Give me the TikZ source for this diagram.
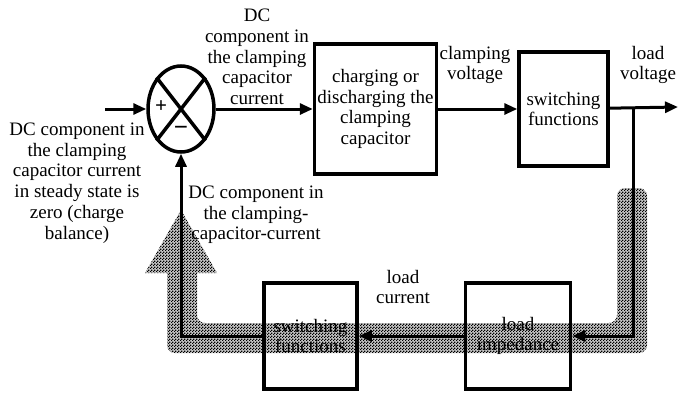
\documentclass[tikz,border=0pt]{standalone}
\usepackage{fontspec}
\setmainfont{Liberation Serif}
\usetikzlibrary{arrows.meta, positioning, calc, shapes.geometric, patterns}
\newcommand{\dfont}{\fontsize{19}{20.7}\selectfont}
\pgfdeclarepatternformonly{checker}{\pgfpointorigin}{\pgfqpoint{3pt}{3pt}}
  {\pgfqpoint{3pt}{3pt}}{
  \pgfpathrectangle{\pgfpointorigin}{\pgfqpoint{1.5pt}{1.5pt}}
  \pgfpathrectangle{\pgfqpoint{1.5pt}{1.5pt}}{\pgfqpoint{1.5pt}{1.5pt}}
  \pgfusepath{fill}
}
\tikzset{
  block/.style={draw, line width=3.5pt, inner sep=2pt, font=\dfont, align=center},
  sumnode/.style={ellipse, draw, line width=3.5pt, minimum width=66pt,
                  minimum height=86pt, inner sep=0pt},
  arrow/.style={-{Triangle[length=13pt,width=11pt]}, line width=3pt},
  signal/.style={font=\dfont, align=center, inner sep=0pt},
  band/.style={fill=black!22, postaction={pattern=checker, pattern color=black}},
}

\begin{document}
\begin{tikzpicture}[x=1pt, y=-1pt]
  \useasboundingbox (0,0) rectangle (695,394);

  % --- Shaded feedback path ---
  \path[band, rounded corners=8pt]
    (632,188) -- (647,188) -- (647,353) -- (167,353) -- (167,250)
    -- (197,250) -- (197,323) -- (617,323) -- (617,188) -- cycle;
  \path[band] (145,273) -- (181,210) -- (217,273) -- (197,273) -- (197,262)
    -- (167,262) -- (167,273) -- cycle;

  % --- Summing junction ---
  \node[sumnode] (sum) at (181,109) {};
  \draw[line width=3.5pt] (sum.north west) -- (sum.south east)
                          (sum.north east) -- (sum.south west);
  \node[font=\fontsize{21}{21}\bfseries, inner sep=0pt] (plus) at (161,107) {+};
  \node[font=\fontsize{25}{25}\bfseries, inner sep=0pt] (minus) at (181,131) {−};

  % --- Forward path ---
  \node[block, minimum width=122pt, minimum height=130pt, right=97pt of sum]
    (charge) {charging or\\discharging the\\clamping\\capacitor};
  \node[block, minimum width=89pt, minimum height=114pt, right=79pt of charge]
    (switchtop) {switching\\functions};

  % --- Return path ---
  \node[block, minimum width=105pt, minimum height=106pt] (loadimp) at (518,336)
    {load\\impedance};
  \node[block, minimum width=93pt, minimum height=106pt, left=105pt of loadimp]
    (switchbot) {switching\\functions};

  % --- Coordinates ---
  \coordinate (in) at (105,109);
  \coordinate (out) at (678,107);
  \coordinate (tap) at (633,107);

  % --- Arrows ---
  \draw[arrow] (in) -- (sum);
  \draw[arrow] (sum) -- (charge);
  \draw[arrow] (charge) -- (switchtop);
  \draw[arrow] (switchtop) -- (out);
  \draw[arrow] (tap) -- (tap |- loadimp) -- (loadimp);
  \draw[arrow] (loadimp) -- (switchbot);
  \draw[arrow] (switchbot) -- (sum |- switchbot) -- (sum);

  % --- Labels ---
  \node[signal] (errlbl) at (257,57)
    {DC\\component in\\the clamping\\capacitor\\current};
  \node[signal] (reflbl) at (77,183)
    {DC component in\\the clamping\\capacitor current\\in steady state is\\zero (charge\\balance)};
  \node[signal] (fblbl) at (256,215)
    {DC component in\\the clamping-\\capacitor-current};
  \node[signal] (vclbl) at (475,65) {clamping\\voltage};
  \node[signal] (vloadlbl) at (648,65) {load\\voltage};
  \node[signal] (iloadlbl) at (403,287) {load\\current};

\end{tikzpicture}
\end{document}
